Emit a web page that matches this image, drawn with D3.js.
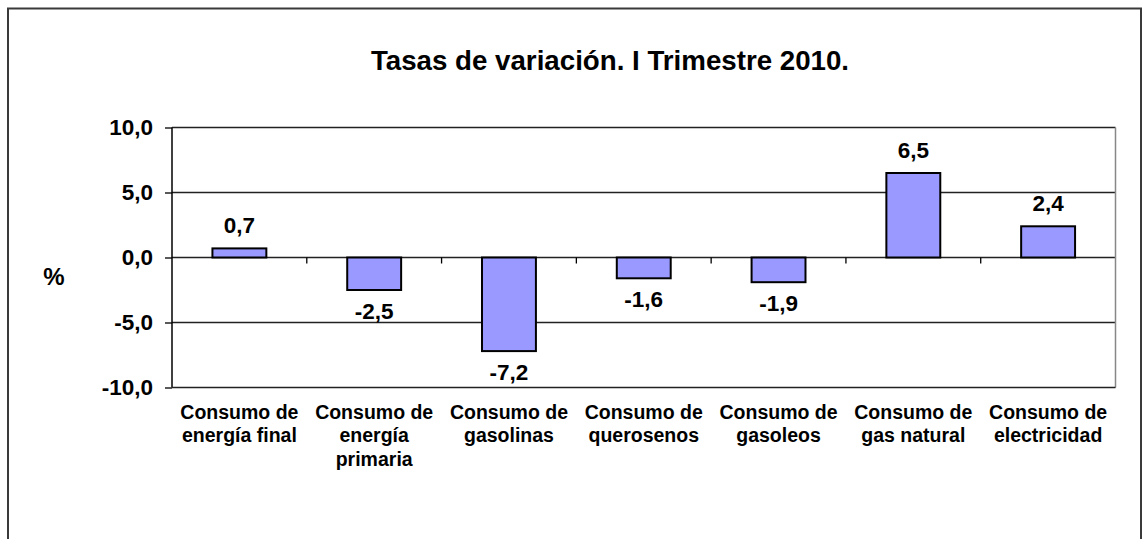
<!DOCTYPE html>
<html>
<head>
<meta charset="utf-8">
<script src="https://cdn.jsdelivr.net/npm/d3@7"></script>
<style>
  html, body { margin: 0; padding: 0; background: #fff; overflow: hidden; }
  svg { display: block; font-family: Arial, "Liberation Sans", sans-serif; font-weight: bold; }
</style>
</head>
<body>
<div id="chart"></div>
<script>
const categories = [
    "Consumo de energía final",
    "Consumo de energía primaria",
    "Consumo de gasolinas",
    "Consumo de querosenos",
    "Consumo de gasoleos",
    "Consumo de gas natural",
    "Consumo de electricidad"
];
const values = [0.7, -2.5, -7.2, -1.6, -1.9, 6.5, 2.4];
const yTicks = [-10, -5, 0, 5, 10];
const chartTitle = "Tasas de variación. I Trimestre 2010.";

const width = 1148, height = 539;
const margin = {top: 127.5, right: 32.5, bottom: 151.5, left: 172};
const innerWidth = width - margin.left - margin.right;
const innerHeight = height - margin.top - margin.bottom;
const barColor = "#9999FF";

// spanish number format: one decimal, comma, plain hyphen for negatives
const fmt = d => d.toFixed(1).replace(".", ",");

const svg = d3.select("#chart")
    .append("svg")
    .attr("width", width)
    .attr("height", height);

// outer chart border: left, top and right sides (bottom is below the picture)
svg.append("path")
    .attr("d", `M8,${height}V8.5H1141V${height}`)
    .attr("fill", "none")
    .attr("stroke", "#3a3a3a")
    .attr("stroke-width", 2);

svg.append("text")
    .text(chartTitle)
    .attr("x", 610)
    .attr("y", 70)
    .attr("text-anchor", "middle")
    .attr("font-size", 27.7);

const innerChart = svg.append("g")
    .attr("transform", `translate(${margin.left}, ${margin.top})`);

const xScale = d3.scaleBand()
    .domain(categories)
    .range([0, innerWidth])
    .paddingInner(0.6)
    .paddingOuter(0.3);

const yScale = d3.scaleLinear()
    .domain([-10, 10])
    .range([innerHeight, 0]);

// gridlines
innerChart.append("g")
    .selectAll("line")
    .data(yTicks.filter(d => d !== -10))
    .join("line")
    .attr("x1", 0).attr("x2", innerWidth)
    .attr("y1", d => yScale(d)).attr("y2", d => yScale(d))
    .attr("stroke", "#222")
    .attr("stroke-width", 1.3);

// plot area right border (gray)
innerChart.append("line")
    .attr("x1", innerWidth).attr("x2", innerWidth)
    .attr("y1", 0).attr("y2", innerHeight)
    .attr("stroke", "#888")
    .attr("stroke-width", 1.5);

// bars
innerChart.selectAll("rect.bar")
    .data(values)
    .join("rect")
    .attr("class", "bar")
    .attr("x", (d, i) => xScale(categories[i]))
    .attr("y", d => yScale(Math.max(d, 0)))
    .attr("width", xScale.bandwidth())
    .attr("height", d => Math.abs(yScale(d) - yScale(0)))
    .attr("fill", barColor)
    .attr("stroke", "#000")
    .attr("stroke-width", 2);

// value labels
innerChart.selectAll("text.val")
    .data(values)
    .join("text")
    .attr("class", "val")
    .text(fmt)
    .attr("x", (d, i) => xScale(categories[i]) + xScale.bandwidth() / 2)
    .attr("y", d => d >= 0 ? yScale(d) - 15 : yScale(d) + 29)
    .attr("text-anchor", "middle")
    .attr("font-size", 22.5);

// left axis
const leftAxis = d3.axisLeft(yScale)
    .tickValues(yTicks)
    .tickSize(7)
    .tickPadding(12)
    .tickFormat(fmt);

const yAxisG = innerChart.append("g").call(leftAxis);
yAxisG.select(".domain").attr("stroke", "#000").attr("stroke-width", 1.5).attr("d", `M0,0V${innerHeight}`);
yAxisG.selectAll(".tick line").attr("stroke", "#000").attr("stroke-width", 1.3);
yAxisG.selectAll(".tick text")
    .attr("font-size", 22.5)
    .attr("font-family", "Arial, 'Liberation Sans', sans-serif")
    .attr("font-weight", "bold")
    .attr("fill", "#000");

// bottom line of plot area
innerChart.append("line")
    .attr("x1", 0).attr("x2", innerWidth)
    .attr("y1", innerHeight).attr("y2", innerHeight)
    .attr("stroke", "#222")
    .attr("stroke-width", 1.5);

// category ticks on the zero line
const bandStep = xScale.step();
const catEdges = d3.range(1, categories.length).map(i => xScale(categories[i]) - (bandStep - xScale.bandwidth()) / 2);
innerChart.append("g")
    .selectAll("line")
    .data(catEdges)
    .join("line")
    .attr("x1", d => d).attr("x2", d => d)
    .attr("y1", yScale(0)).attr("y2", yScale(0) + 6)
    .attr("stroke", "#000")
    .attr("stroke-width", 1.3);

// category labels, wrapped inside each band
const wrapWidth = bandStep - 4;
const catLabels = innerChart.append("g")
    .attr("transform", `translate(0, ${innerHeight + 31})`);

categories.forEach((cat, i) => {
    const cx = xScale(cat) + xScale.bandwidth() / 2;
    const t = catLabels.append("text")
        .attr("x", cx)
        .attr("y", 0)
        .attr("text-anchor", "middle")
        .attr("font-size", 19.5);
    const words = cat.split(" ");
    let line = [];
    let tspan = t.append("tspan").attr("x", cx).attr("dy", 0);
    words.forEach(w => {
        line.push(w);
        tspan.text(line.join(" "));
        if (tspan.node().getComputedTextLength() > wrapWidth && line.length > 1) {
            line.pop();
            tspan.text(line.join(" "));
            line = [w];
            tspan = t.append("tspan")
                .attr("x", cx)
                .attr("dy", 23.5)
                .text(w);
        }
    });
});

// y axis title
svg.append("text")
    .text("%")
    .attr("x", 54)
    .attr("y", 285)
    .attr("text-anchor", "middle")
    .attr("font-size", 24);
</script>
</body>
</html>
